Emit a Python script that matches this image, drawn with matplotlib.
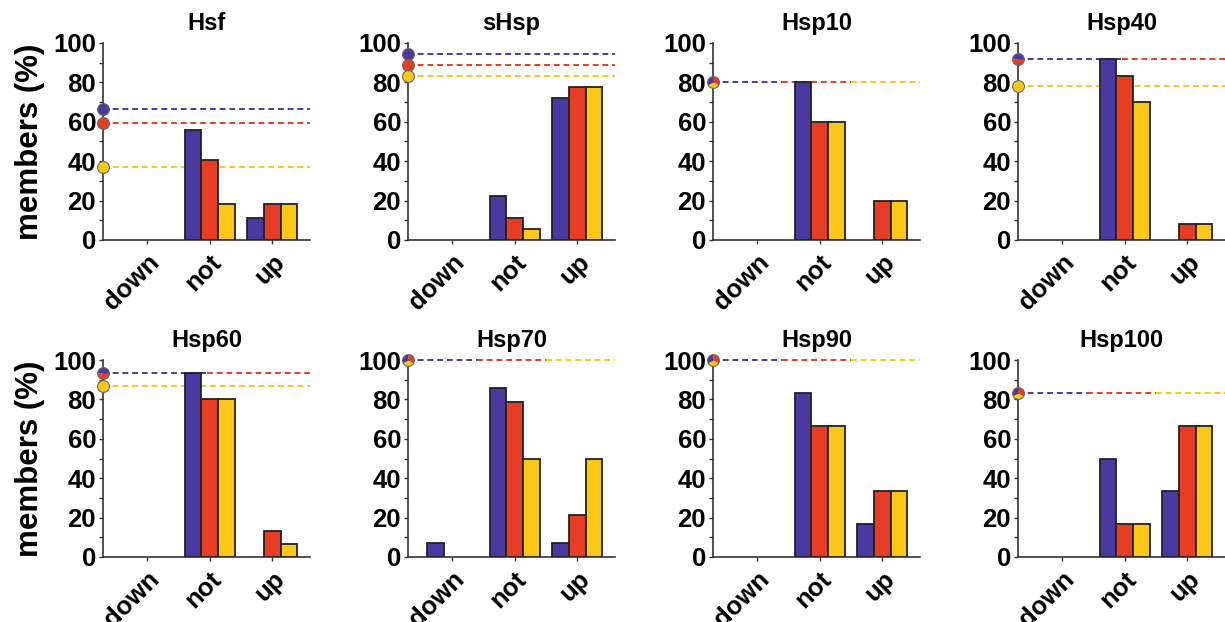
import matplotlib
matplotlib.use("Agg")
import matplotlib.pyplot as plt
from matplotlib.path import Path
import matplotlib.transforms as mtrans

plt.rcParams['font.family'] = ['Liberation Sans', 'DejaVu Sans']
plt.rcParams['font.weight'] = 'bold'

categories = ["down", "not", "up"]
panels = ["Hsf", "sHsp", "Hsp10", "Hsp40", "Hsp60", "Hsp70", "Hsp90", "Hsp100"]
series_colors = ["#4B39A2", "#E53E25", "#FDC718"]

blue = {
    "Hsf": [0, 55.6, 11.1], "sHsp": [0, 22.2, 72.2], "Hsp10": [0, 80.0, 0],
    "Hsp40": [0, 91.7, 0], "Hsp60": [0, 93.3, 0], "Hsp70": [7.1, 85.7, 7.1],
    "Hsp90": [0, 83.3, 16.7], "Hsp100": [0, 50.0, 33.3],
}
red = {
    "Hsf": [0, 40.7, 18.5], "sHsp": [0, 11.1, 77.8], "Hsp10": [0, 60.0, 20.0],
    "Hsp40": [0, 83.3, 8.3], "Hsp60": [0, 80.0, 13.3], "Hsp70": [0, 78.6, 21.4],
    "Hsp90": [0, 66.7, 33.3], "Hsp100": [0, 16.7, 66.7],
}
yellow = {
    "Hsf": [0, 18.5, 18.5], "sHsp": [0, 5.6, 77.8], "Hsp10": [0, 60.0, 20.0],
    "Hsp40": [0, 70.0, 8.3], "Hsp60": [0, 80.0, 6.7], "Hsp70": [0, 50.0, 50.0],
    "Hsp90": [0, 66.7, 33.3], "Hsp100": [0, 16.7, 66.7],
}
# reference levels (dashed lines + circles)
ref_blue = {"Hsf": 66.7, "sHsp": 94.4, "Hsp10": 80.0, "Hsp40": 91.7,
            "Hsp60": 93.3, "Hsp70": 100.0, "Hsp90": 100.0, "Hsp100": 83.3}
ref_red = {"Hsf": 59.3, "sHsp": 88.9, "Hsp10": 80.0, "Hsp40": 91.7,
           "Hsp60": 93.3, "Hsp70": 100.0, "Hsp90": 100.0, "Hsp100": 83.3}
ref_yellow = {"Hsf": 37.0, "sHsp": 83.3, "Hsp10": 80.0, "Hsp40": 78.0,
              "Hsp60": 86.7, "Hsp70": 100.0, "Hsp90": 100.0, "Hsp100": 83.3}

W, H = 1225, 622
fig = plt.figure(figsize=(W / 100, H / 100), dpi=100)

lefts = [103, 408, 713, 1018]
ax_w = 207
rows = [(43, 240), (360, 557)]

bar_w = 0.267
offsets = [-bar_w, 0, bar_w]

for i, name in enumerate(panels):
    r, c = divmod(i, 4)
    top, bot = rows[r]
    ax = fig.add_axes([lefts[c] / W, 1 - bot / H, ax_w / W, (bot - top) / H])
    xs = range(len(categories))
    for s, (data, col) in enumerate(zip([blue, red, yellow], series_colors)):
        bars = ax.bar([x + offsets[s] for x in xs], data[name], width=bar_w,
                      color=col, edgecolor="#222222", linewidth=1.3, zorder=3)
        for p, v in zip(bars.patches, data[name]):
            if v == 0:
                p.set_linewidth(0)
                p.set_visible(False)

    levels = [ref_blue[name], ref_red[name], ref_yellow[name]]
    ytrans = ax.get_yaxis_transform()
    done = set()
    for s in range(3):
        if s in done:
            continue
        group = [k for k in range(3) if abs(levels[k] - levels[s]) < 0.05]
        done.update(group)
        n = len(group)
        for j, k in enumerate(group):
            ax.axhline(levels[k], xmin=j / n, xmax=(j + 1) / n,
                       color=series_colors[k], linestyle=(0, (3, 2)),
                       linewidth=1.4, zorder=2, clip_on=False)
        if n == 1:
            ax.plot([0], [levels[s]], marker="o", markersize=8.5,
                    color=series_colors[s], markeredgecolor="#666666",
                    markeredgewidth=0.8, transform=ytrans, clip_on=False, zorder=5)
        else:
            if n == 2:
                angles = [(0, 180), (180, 360)]
            else:
                angles = [(90, 210), (-30, 90), (210, 330)]
            for (t1, t2), k in zip(angles, group):
                ax.plot([0], [levels[k]], marker=Path.wedge(t1, t2), markersize=8.5,
                        color=series_colors[k], markeredgewidth=0,
                        transform=ytrans, clip_on=False, zorder=5)
            ax.plot([0], [levels[s]], marker="o", markersize=8.5,
                    markerfacecolor="none", markeredgecolor="#666666",
                    markeredgewidth=0.8, transform=ytrans, clip_on=False, zorder=6)

    ax.set_xlim(-0.7, 2.6)
    ax.set_ylim(0, 100)
    ax.set_yticks([0, 20, 40, 60, 80, 100])
    ax.set_yticks([10, 30, 50, 70, 90], minor=True)
    ax.set_xticks(list(xs))
    ax.set_xticklabels(categories, rotation=45, ha="right", va="top",
                       rotation_mode="anchor")
    for lab in ax.get_xticklabels():
        lab.set_transform(lab.get_transform() +
                          mtrans.ScaledTranslation(10 / 100, 2 / 100, fig.dpi_scale_trans))
    ax.tick_params(axis="y", which="major", direction="out", length=3, width=1,
                   labelsize=18.5, pad=2, color="#333333")
    ax.tick_params(axis="y", which="minor", direction="out", length=3, width=1,
                   color="#333333")
    ax.tick_params(axis="x", direction="out", length=3, width=1, labelsize=18.5,
                   pad=4, color="#333333")
    for sp in ["top", "right"]:
        ax.spines[sp].set_visible(False)
    for sp in ["left", "bottom"]:
        ax.spines[sp].set_linewidth(1.2)
        ax.spines[sp].set_color("#333333")
    ax.set_title(name, fontsize=17, fontweight="bold", pad=9)
    if c == 0:
        ax.set_ylabel("members (%)", fontsize=22.5, fontweight="bold", labelpad=6)

fig.savefig("out.png", dpi=100, facecolor="white")
